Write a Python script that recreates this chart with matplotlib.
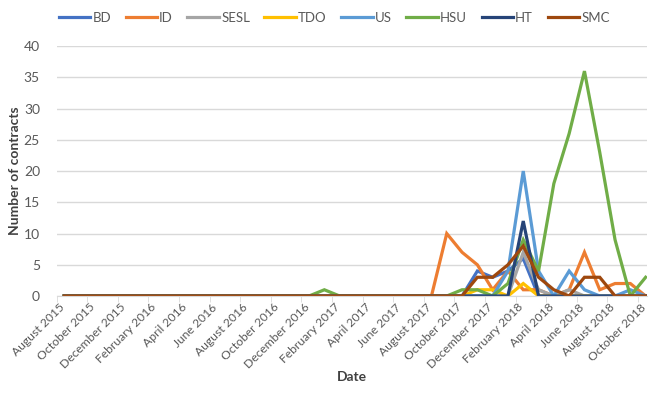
import numpy as np
import pandas as pd
import matplotlib
matplotlib.use('Agg')
import matplotlib.pyplot as plt
from matplotlib.transforms import ScaledTranslation

plt.rcParams['font.family'] = ['Lato', 'DejaVu Sans']

# months Aug 2015 .. Oct 2018
months = pd.date_range('2015-08-01', '2018-10-01', freq='MS')
labels = [m.strftime('%B %Y') for m in months]

#        Aug15 ............................................................... Aug17 Sep Oct Nov Dec Jan18 Feb Mar Apr May Jun Jul Aug Sep Oct
BD   = [0,0,0,0,0,0,0,0,0,0,0,0,0,0,0,0,0,0,0,0,0,0,0,0,0, 0, 0, 4, 3, 4, 6, 0, 0, 0, 0, 0, 0, 0, 0]
ID   = [0,0,0,0,0,0,0,0,0,0,0,0,0,0,0,0,0,0,0,0,0,0,0,0,0,10, 7, 5, 1, 4, 1, 1, 0, 1, 7, 1, 2, 2, 0]
SESL = [0,0,0,0,0,0,0,0,0,0,0,0,0,0,0,0,0,0,0,0,0,0,0,0,0, 0, 0, 0, 0, 0, 7, 1, 0, 1, 0, 0, 0, 0, 0]
TDO  = [0,0,0,0,0,0,0,0,0,0,0,0,0,0,0,0,0,0,0,0,0,0,0,0,0, 0, 0, 1, 1, 0, 2, 0, 0, 0, 0, 0, 0, 0, 0]
US   = [0,0,0,0,0,0,0,0,0,0,0,0,0,0,0,0,0,0,0,0,0,0,0,0,0, 0, 0, 0, 0, 4,20, 4, 0, 4, 1, 0, 0, 1, 0]
HSU  = [0,0,0,0,0,0,0,0,0,0,0,0,0,0,0,0,0,1,0,0,0,0,0,0,0, 0, 1, 1, 0, 2, 9, 4,18,26,36,23, 9, 0, 3]
HT   = [0,0,0,0,0,0,0,0,0,0,0,0,0,0,0,0,0,0,0,0,0,0,0,0,0, 0, 0, 0, 0, 0,12, 0, 0, 0, 0, 0, 0, 0, 0]
SMC  = [0,0,0,0,0,0,0,0,0,0,0,0,0,0,0,0,0,0,0,0,0,0,0,0,0, 0, 0, 3, 3, 5, 8, 3, 1, 0, 3, 3, 0, 0, 0]

series = [('BD', BD, '#4472C4'), ('ID', ID, '#ED7D31'), ('SESL', SESL, '#A5A5A5'),
          ('TDO', TDO, '#FFC000'), ('US', US, '#5B9BD5'), ('HSU', HSU, '#70AD47'),
          ('HT', HT, '#264478'), ('SMC', SMC, '#9E480E')]

fig = plt.figure(figsize=(6.49, 4.07), dpi=100)
ax = fig.add_axes([0.0872, 0.2727, 0.910, 0.614])

x = np.arange(len(labels))
for name, vals, col in series:
    ax.plot(x, vals, color=col, lw=2.3, label=name, solid_joinstyle='miter')

ax.set_xlim(-0.4, 38.1)
ax.set_ylim(0, 40)
ax.set_yticks(range(0, 41, 5))
ax.yaxis.grid(True, color='#D9D9D9', lw=1)
ax.set_axisbelow(True)
for s in ['top', 'right', 'left']:
    ax.spines[s].set_visible(False)
ax.spines['bottom'].set_color('#D9D9D9')

ax.set_xticks(x[::2])
ax.set_xticklabels(labels[::2], rotation=45, ha='right', rotation_mode='anchor',
                   fontsize=8.7, color='#595959')
ax.tick_params(axis='x', length=0, pad=4)
shift = ScaledTranslation(-4/72, 0, fig.dpi_scale_trans)
for lab in ax.get_xticklabels():
    lab.set_transform(lab.get_transform() + shift)
ax.set_xticks(np.arange(-0.5, 38, 2), minor=True)
ax.tick_params(axis='x', which='minor', length=4, color='#D9D9D9')
ax.tick_params(axis='y', length=0, labelsize=10, labelcolor='#595959', pad=12)

ax.set_xlabel('Date', fontsize=10, fontweight='bold', color='#404040')
ax.xaxis.set_label_coords(0.5, -0.30)
ax.set_ylabel('Number of contracts', fontsize=10, fontweight='bold', color='#404040')
ax.yaxis.set_label_coords(-0.060, 0.5)

fig.legend(loc='upper center', bbox_to_anchor=(0.515, 1.0), ncol=8, frameon=False,
           fontsize=9.5, handlelength=2.4, handletextpad=0.15, columnspacing=1.1,
           labelcolor='#595959')

fig.savefig('out.png', dpi=100)
